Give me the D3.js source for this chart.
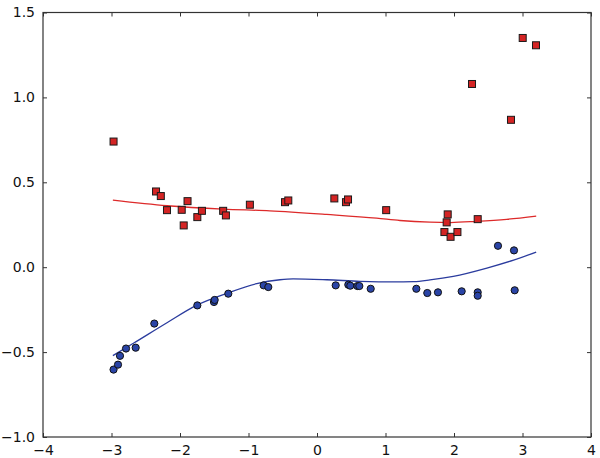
<!DOCTYPE html>
<html><head><meta charset="utf-8">
<script src="https://cdn.jsdelivr.net/npm/d3@7"></script>
<style>body{margin:0;background:#fff}svg{display:block}text{font-family:"DejaVu Sans",sans-serif}</style>
</head><body><svg id="c" width="600" height="458"></svg>
<script>
const redX = [-2.97,-2.35,-2.28,-2.19,-1.975,-1.89,-1.946,-1.747,-1.68,-1.37,-1.33,-0.98,-0.467,-0.419,0.253,0.423,0.453,1.01,1.908,1.893,1.86,1.95,2.05,3.003,3.197,2.263,2.832,2.346];
const redY = [0.74,0.446,0.419,0.336,0.338,0.389,0.246,0.295,0.332,0.332,0.305,0.368,0.383,0.393,0.405,0.383,0.399,0.336,0.311,0.264,0.207,0.179,0.207,1.35,1.307,1.079,0.868,0.283];
const blueX = [-2.97,-2.905,-2.876,-2.788,-2.647,-2.375,-1.747,-1.504,-1.494,-1.295,-0.779,-0.711,0.273,0.457,0.486,0.589,0.618,0.784,1.45,1.61,1.766,2.112,2.642,2.876,2.346,2.346,2.886];
const blueY = [-0.603,-0.574,-0.522,-0.479,-0.474,-0.332,-0.225,-0.205,-0.193,-0.156,-0.107,-0.117,-0.107,-0.103,-0.109,-0.111,-0.111,-0.127,-0.127,-0.152,-0.148,-0.142,0.126,0.099,-0.148,-0.168,-0.136];
const redLineX = [-2.98,-2.19,-1.37,-0.69,0.14,0.87,1.21,1.65,1.95,2.33,2.77,3.2];
const redLineY = [0.395,0.362,0.342,0.332,0.311,0.289,0.275,0.265,0.263,0.27,0.282,0.301];
const blueLineX = [-2.98,-2.68,-2.19,-1.76,-1.30,-0.88,-0.54,-0.35,0.14,0.63,1.11,1.41,1.65,1.99,2.48,2.87,3.2];
const blueLineY = [-0.521,-0.448,-0.327,-0.225,-0.152,-0.097,-0.074,-0.069,-0.074,-0.083,-0.087,-0.085,-0.075,-0.054,-0.005,0.042,0.089];
const xTicks = [-4,-3,-2,-1,0,1,2,3,4];
const yTicks = [-1.0,-0.5,0.0,0.5,1.0,1.5];

const L=43,R=591,T=12.5,B=437;
const svg=d3.select("#c");
const x=d3.scaleLinear().domain([-4,4]).range([L,R]);
const y=d3.scaleLinear().domain([-1,1.5]).range([B,T]);
const fmtY=d=>d3.format(".1f")(d).replace("-","\u2212");
const fmtX=d=>String(d).replace("-","\u2212");

const g=svg.append("g");
const line=d3.line().curve(d3.curveMonotoneX);
g.append("path").attr("d",line(redLineX.map((v,i)=>[x(v),y(redLineY[i])]))).attr("fill","none").attr("stroke","#dd2a2a").attr("stroke-width",1.3);
g.append("path").attr("d",line(blueLineX.map((v,i)=>[x(v),y(blueLineY[i])]))).attr("fill","none").attr("stroke","#2b3c9e").attr("stroke-width",1.3);
g.selectAll("rect.r").data(redX).enter().append("rect")
 .attr("x",(d)=>x(d)-3.5).attr("y",(d,i)=>y(redY[i])-3.5).attr("width",7).attr("height",7)
 .attr("fill","#d42424").attr("stroke","#1a1a1a").attr("stroke-width",1);
g.selectAll("circle.b").data(blueX).enter().append("circle")
 .attr("cx",d=>x(d)).attr("cy",(d,i)=>y(blueY[i])).attr("r",3.6)
 .attr("fill","#2a44a6").attr("stroke","#111").attr("stroke-width",1);

const ax=svg.append("g");
ax.append("g").attr("transform",`translate(0,${B})`).call(d3.axisBottom(x).tickValues(xTicks).tickSize(-4).tickPadding(8).tickFormat(fmtX));
ax.append("g").attr("transform",`translate(0,${T})`).call(d3.axisTop(x).tickValues(xTicks).tickSize(-4).tickFormat(""));
ax.append("g").attr("transform",`translate(${L},0)`).call(d3.axisLeft(y).tickValues(yTicks).tickSize(-4).tickPadding(8).tickFormat(fmtY));
ax.append("g").attr("transform",`translate(${R},0)`).call(d3.axisRight(y).tickValues(yTicks).tickSize(-4).tickFormat(""));
ax.selectAll(".domain").remove();
ax.selectAll(".tick line").attr("stroke","#333");
ax.selectAll("text").attr("font-size",14).attr("fill","#111").attr("font-family","DejaVu Sans");
svg.append("rect").attr("x",L).attr("y",T).attr("width",R-L).attr("height",B-T).attr("fill","none").attr("stroke","#333").attr("stroke-width",1.2);
</script></body></html>
